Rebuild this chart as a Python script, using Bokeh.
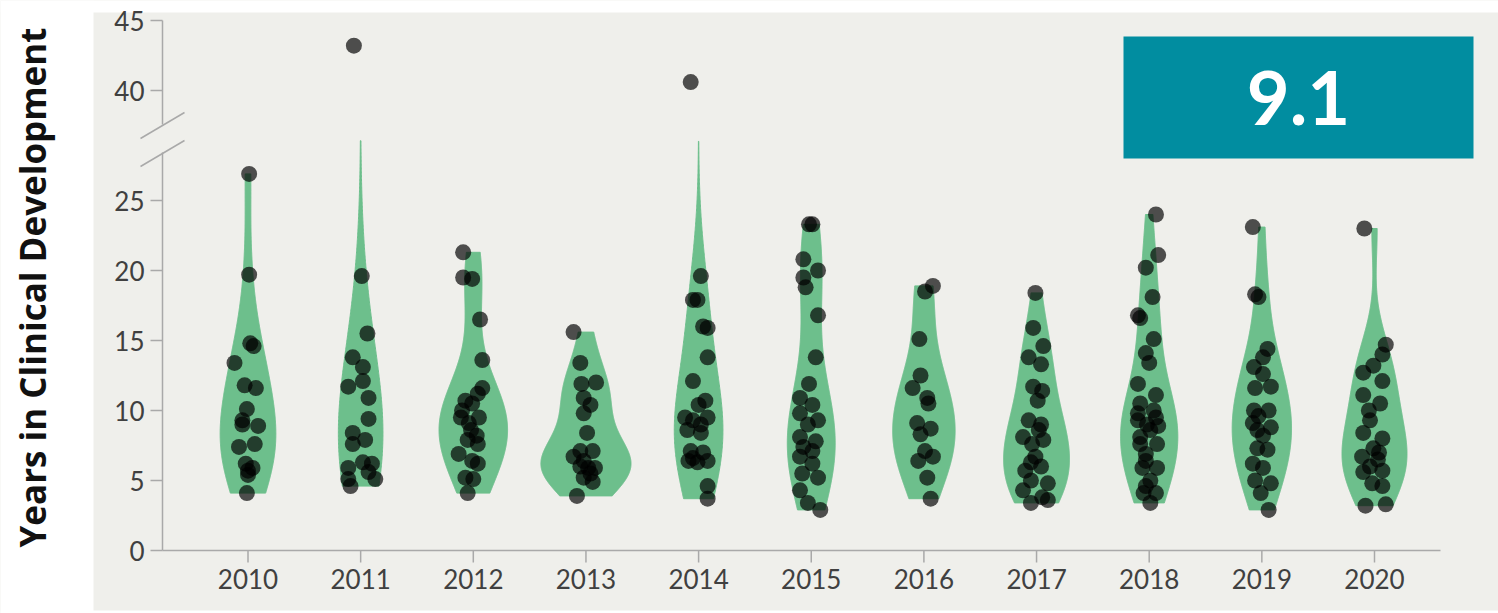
import numpy as np
from bokeh.plotting import figure
from bokeh.models import Range1d
from bokeh.core.properties import value
from bokeh.embed import file_html
from bokeh.resources import INLINE

# ---------------- data ----------------
years = ["2010", "2011", "2012", "2013", "2014", "2015", "2016", "2017", "2018", "2019", "2020"]

y2010 = [26.9, 19.7, 14.8, 14.6, 13.4, 11.8, 11.6, 10.1, 9.3, 9.0, 8.9, 7.4, 7.6, 6.2, 5.7, 5.4, 5.9, 4.1]
j2010 = [0.01, 0.01, 0.02, 0.05, -0.12, -0.03, 0.07, -0.01, -0.05, -0.05, 0.09, -0.08, 0.06, -0.02, 0.00, 0.00, 0.04, -0.01]

y2011 = [43.2, 19.6, 15.5, 13.8, 13.1, 12.1, 11.7, 10.9, 9.4, 8.4, 7.9, 7.6, 6.3, 6.2, 5.9, 5.6, 5.1, 5.1, 4.6]
j2011 = [-0.06, 0.01, 0.06, -0.07, 0.02, 0.02, -0.11, 0.07, 0.07, -0.07, 0.04, -0.07, 0.02, 0.10, -0.11, 0.07, -0.11, 0.13, -0.09]

y2012 = [21.3, 19.5, 19.4, 16.5, 13.6, 11.6, 11.2, 10.7, 10.5, 9.5, 9.5, 8.6, 7.9, 7.6, 6.9, 6.4, 6.2, 5.2, 5.1, 4.1, 9.1, 8.2, 10.0]
j2012 = [-0.09, -0.09, -0.01, 0.06, 0.08, 0.08, 0.04, -0.07, -0.01, -0.11, 0.05, -0.02, -0.05, 0.04, -0.13, -0.01, 0.04, -0.07, 0.00, -0.05, -0.04, 0.03, -0.10]

y2013 = [15.6, 13.4, 11.9, 12.0, 10.9, 10.4, 9.8, 8.4, 7.1, 7.1, 6.7, 6.4, 5.9, 5.9, 5.2, 4.9, 3.9, 6.0, 5.5]
j2013 = [-0.11, -0.05, -0.04, 0.09, -0.02, 0.04, -0.02, 0.01, -0.05, 0.06, -0.11, -0.02, 0.02, 0.08, -0.02, 0.06, -0.08, -0.05, 0.04]

y2014 = [40.6, 19.6, 17.9, 17.9, 15.9, 13.8, 12.1, 10.7, 10.4, 9.5, 9.3, 9.5, 8.6, 8.4, 7.1, 7.0, 6.4, 6.3, 6.4, 4.6, 3.7, 16.0, 6.6, 9.0]
j2014 = [-0.07, 0.02, -0.05, -0.01, 0.08, 0.08, -0.05, 0.06, 0.00, -0.12, -0.05, 0.08, -0.10, 0.02, -0.07, 0.04, -0.09, -0.01, 0.08, 0.08, 0.08, 0.04, -0.05, 0.02]

y2015 = [23.3, 23.3, 20.8, 20.0, 19.5, 18.8, 16.8, 13.8, 11.9, 10.9, 10.4, 9.8, 9.3, 9.0, 8.1, 7.8, 7.4, 7.1, 6.7, 6.2, 5.5, 5.2, 4.3, 3.4, 2.9]
j2015 = [-0.02, 0.01, -0.07, 0.06, -0.07, -0.05, 0.06, 0.04, -0.02, -0.10, 0.01, -0.10, 0.06, -0.03, -0.10, 0.04, -0.07, 0.01, -0.10, 0.01, -0.08, 0.06, -0.10, -0.03, 0.08]

y2016 = [18.9, 18.5, 15.1, 12.5, 11.6, 10.9, 10.5, 9.1, 8.7, 8.3, 7.1, 6.4, 6.7, 5.2, 3.7]
j2016 = [0.08, 0.01, -0.04, -0.03, -0.10, 0.03, 0.04, -0.06, 0.06, -0.03, 0.01, -0.05, 0.08, 0.03, 0.06]

y2017 = [18.4, 15.9, 14.6, 13.8, 13.3, 11.7, 11.4, 10.7, 9.3, 9.0, 8.1, 7.9, 7.6, 6.7, 5.7, 6.0, 5.0, 4.8, 4.3, 3.8, 3.4, 3.6, 8.6, 6.3]
j2017 = [-0.01, -0.03, 0.06, -0.07, 0.04, -0.03, 0.05, 0.01, -0.07, 0.04, -0.12, 0.06, -0.04, -0.01, -0.10, 0.04, -0.05, 0.10, -0.12, 0.05, -0.05, 0.10, 0.02, -0.05]

y2018 = [24.0, 21.1, 20.2, 18.1, 16.8, 16.6, 15.1, 14.1, 13.4, 11.9, 11.1, 10.5, 9.3, 9.5, 9.0, 8.1, 7.6, 6.9, 5.9, 5.9, 5.0, 4.1, 4.1, 3.4, 8.6, 7.6, 10.0, 6.4, 8.9, 4.6, 9.8]
j2018 = [0.06, 0.08, -0.03, 0.03, -0.10, -0.08, 0.04, -0.03, 0.00, -0.10, 0.06, -0.08, -0.10, 0.06, -0.02, -0.08, 0.07, -0.03, -0.06, 0.07, 0.01, -0.05, 0.06, 0.01, 0.01, -0.08, 0.04, -0.03, 0.08, -0.03, -0.10]

y2019 = [23.1, 18.3, 18.1, 14.4, 13.8, 13.1, 12.6, 11.6, 11.7, 10.0, 10.0, 9.1, 8.8, 8.6, 7.3, 7.2, 6.2, 5.9, 5.0, 4.8, 4.1, 2.9, 8.2, 9.6]
j2019 = [-0.08, -0.06, -0.03, 0.05, 0.01, -0.07, 0.01, -0.06, 0.08, -0.07, 0.06, -0.08, 0.08, -0.04, -0.04, 0.05, -0.08, 0.01, -0.06, 0.08, -0.01, 0.06, 0.01, -0.03]

y2020 = [23.0, 14.7, 14.0, 13.2, 12.7, 12.1, 11.1, 10.5, 9.3, 8.4, 8.0, 7.3, 6.7, 6.5, 5.7, 5.6, 4.8, 4.6, 3.2, 3.3, 6.0, 7.0, 10.0]
j2020 = [-0.09, 0.10, 0.07, -0.01, -0.10, 0.07, -0.10, 0.05, -0.04, -0.10, 0.07, -0.01, -0.11, 0.03, 0.07, -0.10, -0.02, 0.07, -0.08, 0.10, -0.04, 0.04, -0.05]

values = [y2010, y2011, y2012, y2013, y2014, y2015, y2016, y2017, y2018, y2019, y2020]
jitter = [j2010, j2011, j2012, j2013, j2014, j2015, j2016, j2017, j2018, j2019, j2020]

y_ticks = [0, 5, 10, 15, 20, 25, 40, 45]
big_number = "9.1"
y_title = "Years in Clinical Development"

# ---------------- layout (canvas pixels) ----------------
W, H = 1498, 613
PANEL_L, PANEL_T, PANEL_B = 93, 12, 610                    # grey panel edges
CAT0_PX, CAT_STEP = 247.5, 112.65                          # first category centre, spacing
Y0_PX, PX_PER_UNIT = 550, 14.0                             # y=0 position, px per year
AXIS_X_PX, AXIS_R_PX = 162, 1440
BREAK_AT, BREAK_SHIFT = 30.0, 100.0 / 14.0                 # values above BREAK_AT shifted down
CUT_TOP_PX = 140                                           # violins clipped at the break

def x_of(px):
    return (px - CAT0_PX) / CAT_STEP

def y_of(py):
    return (Y0_PX - py) / PX_PER_UNIT

def dx(px):
    return px / CAT_STEP

def dy(px):
    return px / PX_PER_UNIT

def plotted(v):
    v = np.asarray(v, dtype=float)
    return np.where(v < BREAK_AT, v, v - BREAK_SHIFT)

BG = "#efefeb"
GREEN = "#6dbf8c"
AXIS_C = "#a9a9a9"
TXT_C = "#404040"

p = figure(width=W, height=H, output_backend="svg", toolbar_location=None,
           x_axis_location=None, y_axis_location=None,
           x_range=Range1d(x_of(0), x_of(W)), y_range=Range1d(y_of(H), y_of(0)),
           min_border_left=0, min_border_right=0, min_border_top=0, min_border_bottom=0)
p.background_fill_color = BG
p.border_fill_color = "white"
p.outline_line_color = None
p.grid.visible = False

# white surround of the grey panel
xl, xr = x_of(0), x_of(W)
yb, yt = y_of(H), y_of(0)
p.quad(left=[xl, xl, xl], right=[x_of(PANEL_L), xr, xr],
       bottom=[yb, y_of(PANEL_T), yb], top=[yt, yt, y_of(PANEL_B)],
       fill_color="white", line_color=None)

# ---------------- violins (gaussian KDE, Scott bandwidth, cut=0, area scale) ----------------
cut_val = y_of(CUT_TOP_PX)
dens = []
for vals in values:
    a = np.asarray(vals, dtype=float)
    bw = a.std(ddof=1) * len(a) ** (-1 / 5)
    grid = np.linspace(a.min(), a.max(), 400)
    d = np.exp(-0.5 * ((grid[:, None] - a[None, :]) / bw) ** 2).sum(axis=1) / (len(a) * bw * np.sqrt(2 * np.pi))
    keep = grid <= cut_val
    dens.append((grid[keep], d[keep]))
gmax = max(d.max() for _, d in dens)
xs_list, ys_list = [], []
for i, (g, d) in enumerate(dens):
    hw = 0.4 * d / gmax
    xs_list.append(list(np.concatenate([i + hw, (i - hw)[::-1]])))
    ys_list.append(list(np.concatenate([g, g[::-1]])))
p.patches(xs_list, ys_list, fill_color=GREEN, line_color=GREEN, line_width=1, fill_alpha=1.0)

# ---------------- points ----------------
for i, (vals, jit) in enumerate(zip(values, jitter)):
    assert len(vals) == len(jit)
    xs = [i + j for j in jit]
    p.scatter(xs, plotted(vals), size=16, fill_color="black", fill_alpha=0.68, line_color=None)

# ---------------- x axis ----------------
ax_x = x_of(AXIS_X_PX)
p.segment([ax_x], [0], [x_of(AXIS_R_PX)], [0], line_color=AXIS_C, line_width=1.5)
cats = list(range(len(years)))
p.segment(cats, [0] * len(cats), cats, [-dy(12)] * len(cats), line_color=AXIS_C, line_width=1.5)
p.text(cats, [y_of(578)] * len(cats), text=years, text_align="center", text_baseline="middle",
       text_font=value("Lato"), text_font_size="26px", text_color=TXT_C)

# ---------------- y axis with break ----------------
gap_lo, gap_hi = y_of(152), y_of(124)
p.segment([ax_x, ax_x], [0, gap_hi], [ax_x, ax_x], [gap_lo, float(plotted([45])[0])],
          line_color=AXIS_C, line_width=1.5)
ty = list(plotted(y_ticks))
p.segment([ax_x - dx(12)] * len(ty), ty, [ax_x] * len(ty), ty, line_color=AXIS_C, line_width=1.5)
p.text([ax_x - dx(18)] * len(ty), ty, text=[str(t) for t in y_ticks], text_align="right",
       text_baseline="middle", text_font=value("Lato"), text_font_size="26px", text_color=TXT_C)
for cy in (y_of(153), y_of(125)):
    p.segment([ax_x - dx(22)], [cy - dy(13)], [ax_x + dx(22)], [cy + dy(13)],
              line_color=AXIS_C, line_width=1.5)

# ---------------- highlighted number box ----------------
p.quad(left=[x_of(1123)], right=[x_of(1473)], top=[y_of(36)], bottom=[y_of(158)],
       fill_color="#018da0", line_color=None)
p.text([x_of(1298)], [y_of(97)], text=[big_number], text_align="center", text_baseline="middle",
       text_font=value("Lato"), text_font_style="bold", text_font_size="74px", text_color="white")

# ---------------- y title ----------------
p.text([x_of(32)], [y_of(287)], text=[y_title], angle=np.pi / 2,
       text_align="center", text_baseline="alphabetic", text_font=value("Open Sans"),
       text_font_style="bold", text_font_size="35px", text_color="#111111")

open("out.html", "w").write(file_html(p, INLINE))
